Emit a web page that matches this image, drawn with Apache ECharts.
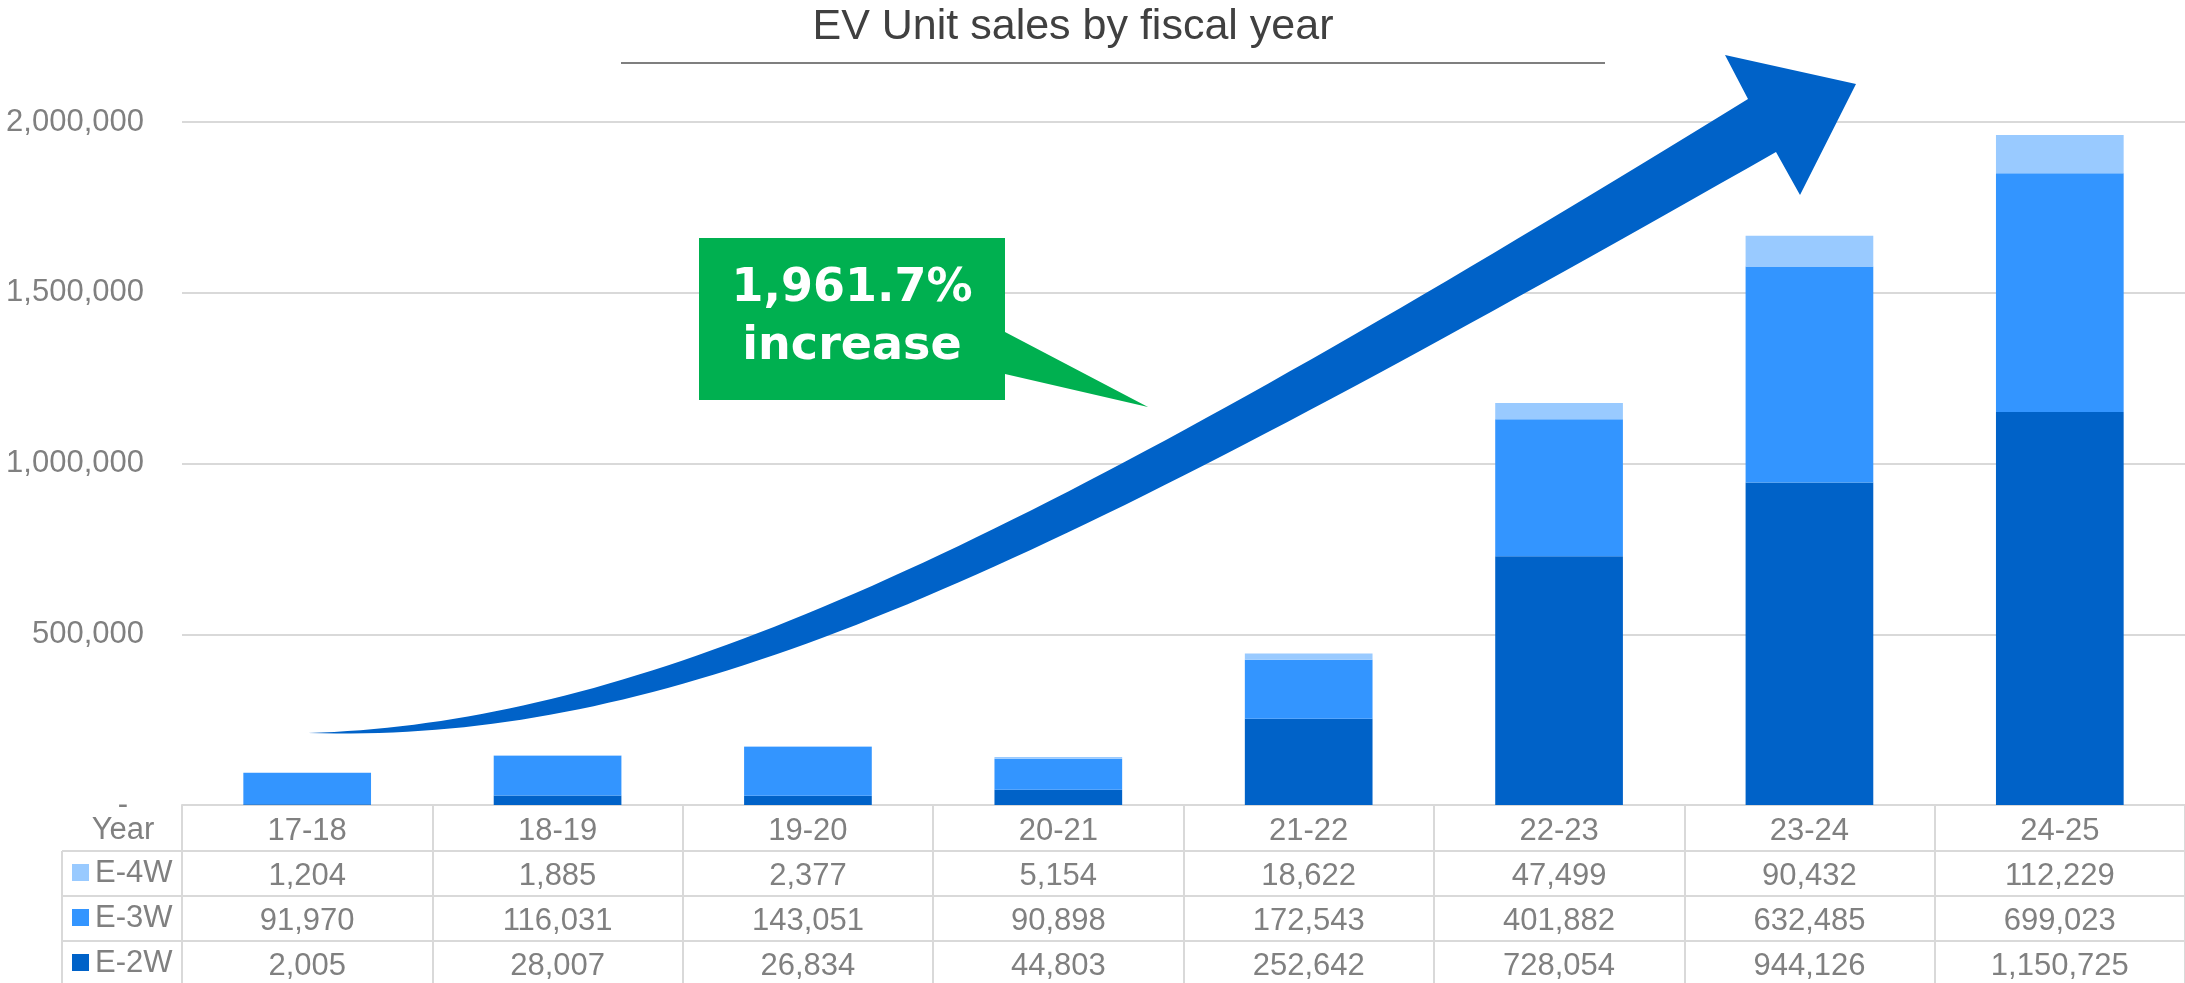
<!DOCTYPE html>
<html>
<head>
<meta charset="utf-8">
<script src="https://cdn.jsdelivr.net/npm/echarts@6/dist/echarts.min.js"></script>
<style>
html,body{margin:0;padding:0;background:#fff;}
#chart{width:2185px;height:983px;}
</style>
</head>
<body>
<div id="chart"></div>
<script>
// ---- Data ----
const years = ['17-18','18-19','19-20','20-21','21-22','22-23','23-24','24-25'];
const e4w = [1204, 1885, 2377, 5154, 18622, 47499, 90432, 112229];
const e3w = [91970, 116031, 143051, 90898, 172543, 401882, 632485, 699023];
const e2w = [2005, 28007, 26834, 44803, 252642, 728054, 944126, 1150725];
const seriesNames = ['E-2W', 'E-3W', 'E-4W'];          // stacking order, bottom to top
const legendOrder = ['E-4W', 'E-3W', 'E-2W'];          // table row order
const yTicks = [0, 500000, 1000000, 1500000, 2000000];
const titleText = 'EV Unit sales by fiscal year';
const calloutLines = ['1,961.7%', 'increase'];

// ---- Layout / style constants ----
const W = 2185, H = 983;
const GRID_LEFT = 182, GRID_TOP = 122, AXIS_Y = 805;
const ROW_H = 45;
const TABLE_LEFT = 62;
const FONT = "'Liberation Sans', Arial, sans-serif";
const GRAY = '#808080';
const LINE = '#d9d9d9';
const COLORS = { 'E-2W': '#0062C8', 'E-3W': '#3395FF', 'E-4W': '#99CAFF' };
const VALUES = { 'E-2W': e2w, 'E-3W': e3w, 'E-4W': e4w };

const fmt = v => v.toLocaleString('en-US');

// cubic bezier sampler for the decorative arrow outline
function cubic(p0, c1, c2, p3, n) {
  const out = [];
  for (let s = 0; s <= n; s++) {
    const t = s / n, u = 1 - t;
    out.push([
      u*u*u*p0[0] + 3*u*u*t*c1[0] + 3*u*t*t*c2[0] + t*t*t*p3[0],
      u*u*u*p0[1] + 3*u*u*t*c1[1] + 3*u*t*t*c2[1] + t*t*t*p3[1]
    ]);
  }
  return out;
}
const tail = [308, 733];
const notchUp = [1748, 99], notchLow = [1776, 152];
const upperEdge = cubic(tail, [658, 722.5], [1028, 541.8], notchUp, 80);
const lowerEdge = cubic(tail, [688, 744.4], [1036, 572.3], notchLow, 80).reverse();
const arrowPts = [...upperEdge, [1725, 55], [1856, 84], [1800, 195], ...lowerEdge];

const tableBottom = AXIS_Y + 4 * ROW_H + 2;
const graphics = [
  { type: 'text', z: 10,
    style: { text: titleText, x: 1073, y: 27, fontSize: 43, fontFamily: FONT, fill: '#404040', align: 'center', verticalAlign: 'middle' } },
  { type: 'line', z: 10, shape: { x1: 621, y1: 63, x2: 1605, y2: 63 }, style: { stroke: '#7f7f7f', lineWidth: 2 } },
  ...[1, 2, 3].map(r => ({ type: 'line', z: 1, shape: { x1: TABLE_LEFT, y1: AXIS_Y + 1 + r * ROW_H, x2: W, y2: AXIS_Y + 1 + r * ROW_H }, style: { stroke: LINE, lineWidth: 2 } })),
  { type: 'line', z: 1, shape: { x1: TABLE_LEFT, y1: AXIS_Y + 1 + ROW_H, x2: TABLE_LEFT, y2: tableBottom }, style: { stroke: LINE, lineWidth: 2 } },
  { type: 'text', z: 10, style: { text: 'Year', x: 123, y: 830, fontSize: 31, fontFamily: FONT, fill: GRAY, align: 'center', verticalAlign: 'middle' } },
  // legend keys inside the data table
  ...legendOrder.flatMap((name, r) => {
    const cy = AXIS_Y + 1 + (r + 1) * ROW_H + ROW_H / 2 - 1;
    return [
      { type: 'rect', z: 10, shape: { x: 72, y: cy - 8.5, width: 17, height: 17 }, style: { fill: COLORS[name] } },
      { type: 'text', z: 10, style: { text: name, x: 95, y: cy + 1, fontSize: 31, fontFamily: FONT, fill: GRAY, align: 'left', verticalAlign: 'middle' } }
    ];
  }),
  { type: 'polygon', z: 20, shape: { points: arrowPts }, style: { fill: COLORS['E-2W'] } },
  { type: 'polygon', z: 21, shape: { points: [[699,238],[1005,238],[1005,332],[1148,407],[1005,374],[1005,400],[699,400]] }, style: { fill: '#00B050' } },
  { type: 'text', z: 22, style: { text: calloutLines[0], x: 852, y: 289, fontSize: 46, fontWeight: 'bold', fontFamily: "'DejaVu Sans', sans-serif", fill: '#fff', align: 'center', verticalAlign: 'middle' } },
  { type: 'text', z: 22, style: { text: calloutLines[1], x: 852, y: 347, fontSize: 46, fontWeight: 'bold', fontFamily: "'DejaVu Sans', sans-serif", fill: '#fff', align: 'center', verticalAlign: 'middle' } }
];

const chart = echarts.init(document.getElementById('chart'), null, { renderer: 'canvas' });
chart.setOption({
  animation: false,
  backgroundColor: '#fff',
  grid: { left: GRID_LEFT, right: 0, top: GRID_TOP, bottom: H - AXIS_Y, containLabel: false, outerBoundsMode: 'none' },
  xAxis: {
    type: 'category', data: years,
    axisLine: { show: true, lineStyle: { color: LINE, width: 2 } },
    axisTick: { show: true, alignWithLabel: false, interval: 0, length: tableBottom - AXIS_Y, lineStyle: { color: LINE, width: 2 } },
    axisLabel: {
      interval: 0, margin: 4, fontSize: 31, fontFamily: FONT, color: GRAY, lineHeight: ROW_H,
      formatter: (v, i) => [v, ...legendOrder.map(n => fmt(VALUES[n][i]))].join('\n')
    }
  },
  yAxis: {
    type: 'value', min: yTicks[0], max: yTicks[yTicks.length - 1], interval: yTicks[1] - yTicks[0],
    axisLine: { show: false }, axisTick: { show: false },
    splitLine: { lineStyle: { color: LINE, width: 2 } },
    axisLabel: {
      margin: 38, fontSize: 31, fontFamily: FONT, color: GRAY,
      formatter: v => v === 0 ? '{z|-}' : fmt(v),
      rich: { z: { fontSize: 31, fontFamily: FONT, color: GRAY, padding: [0, 16, 0, 0] } }
    }
  },
  series: seriesNames.map(name => ({
    name, type: 'bar', stack: 'total', data: VALUES[name], barWidth: '51%',
    itemStyle: { color: COLORS[name] }
  })),
  graphic: graphics
});
</script>
</body>
</html>
